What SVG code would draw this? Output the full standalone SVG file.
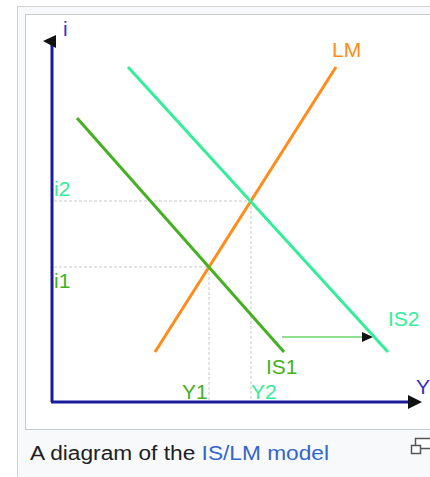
<svg xmlns="http://www.w3.org/2000/svg" width="430" height="477" viewBox="0 0 430 477">
<defs>
<style>
.lbl{font-family:"Liberation Sans",Arial,sans-serif;font-size:21px}
.dash{stroke:#c8c8c8;stroke-width:1;stroke-dasharray:3,2;fill:none}
.curve{stroke-width:3;fill:none;stroke-linecap:butt}
.axis{stroke:#1a1a9c;stroke-width:3;fill:none}
</style>
</defs>
<rect width="430" height="477" fill="#ffffff"/>
<g id="frame">
<rect x="17.5" y="6.5" width="430" height="480" fill="#f8f9fa" stroke="#d0d0d0" stroke-width="1"/>
<rect x="25.5" y="14.5" width="420" height="415" fill="#ffffff" stroke="#c8ccd1" stroke-width="1"/>
</g>
<g id="guides">
<line class="dash" x1="54" y1="201" x2="251" y2="201"/>
<line class="dash" x1="251" y1="201" x2="251" y2="402"/>
<line class="dash" x1="54" y1="267" x2="209" y2="267"/>
<line class="dash" x1="209" y1="267" x2="209" y2="402"/>
</g>
<g id="connectors">
<line x1="282" y1="337" x2="364" y2="337" stroke="#8fdf8f" stroke-width="2"/>
<polygon points="373,337 362,332 362,342" fill="#111"/>
</g>
<g id="axes">
<line class="axis" x1="52" y1="44" x2="52" y2="402"/>
<line class="axis" x1="51" y1="402" x2="410" y2="402"/>
<polygon points="43,41 56,35 56,48" fill="#111"/>
<polygon points="422,402 408,395 408,409" fill="#111"/>
<text class="lbl" x="63" y="36" fill="#3a2fc0">i</text>
<text class="lbl" x="416" y="394" fill="#3a2fc0">Y</text>
</g>
<g id="LM">
<line class="curve" x1="155" y1="352" x2="336" y2="67" stroke="#ff8c1a"/>
<text class="lbl" x="332" y="57" fill="#ff8c1a">LM</text>
</g>
<g id="IS1">
<line class="curve" x1="77" y1="118" x2="284" y2="352" stroke="#44b022"/>
<text class="lbl" x="266" y="374" fill="#44b022">IS1</text>
</g>
<g id="IS2">
<line class="curve" x1="128" y1="67" x2="388" y2="352" stroke="#33ee99"/>
<text class="lbl" x="388" y="326" fill="#33ee99">IS2</text>
</g>
<g id="ticks">
<text class="lbl" x="54" y="196" fill="#33ee99">i2</text>
<text class="lbl" x="54" y="288" fill="#44b022">i1</text>
<text class="lbl" x="182" y="399" fill="#44b022">Y1</text>
<text class="lbl" x="251" y="399" fill="#33ee99">Y2</text>
</g>
<g id="caption">
<text x="30" y="460" font-family="'Liberation Sans',Arial,sans-serif" font-size="20" fill="#202122" textLength="299" lengthAdjust="spacingAndGlyphs">A diagram of the <tspan fill="#3366cc">IS/LM model</tspan></text>
<rect x="415.5" y="438.5" width="16" height="10" fill="#ffffff" stroke="#555" stroke-width="1.5"/>
<rect x="411.5" y="445.5" width="9" height="8" fill="#ffffff" stroke="#555" stroke-width="1.5"/>
</g>
</svg>
